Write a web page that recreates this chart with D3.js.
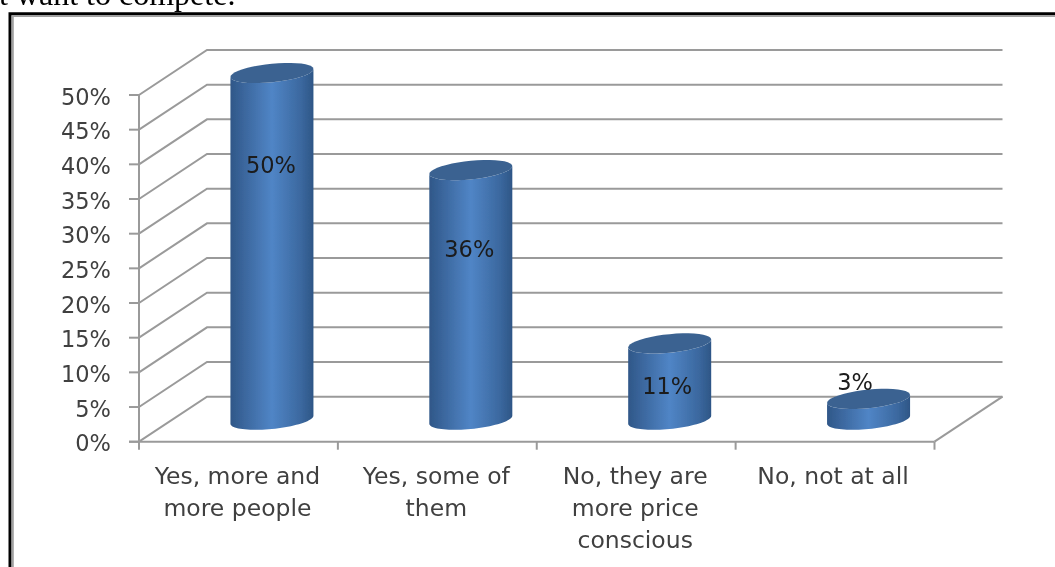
<!DOCTYPE html>
<html><head><meta charset="utf-8">
<script src="https://cdn.jsdelivr.net/npm/d3@7"></script>
<style>html,body{margin:0;padding:0;background:#fff;overflow:hidden}svg{display:block}</style>
</head><body><svg id="c" width="1055" height="567"></svg>
<script>
const categories = [["Yes, more and","more people"],["Yes, some of","them"],["No, they are","more price","conscious"],["No, not at all"]];
const values = [50,36,11,3];
const labels = ["50%","36%","11%","3%"];
const ticks = [0,5,10,15,20,25,30,35,40,45,50];
const caption = "t want to compete.";

const W=1055,H=567;
const svg=d3.select("#c");
const defs=svg.append("defs");
const f=defs.append("filter").attr("id","soft").attr("x","-5%").attr("y","-5%").attr("width","110%").attr("height","110%");
f.append("feGaussianBlur").attr("stdDeviation",0.55);
const g1=defs.append("linearGradient").attr("id","side");
[[0,"#2f5788"],[0.15,"#3a659b"],[0.5,"#5085c6"],[0.85,"#3b689f"],[1,"#2e5686"]].forEach(s=>g1.append("stop").attr("offset",s[0]).attr("stop-color",s[1]));

const root=svg.append("g").attr("filter","url(#soft)");
const x=d3.scaleBand().domain(d3.range(categories.length)).range([139,934.5]);
const y=d3.scaleLinear().domain([0,50]).range([441.7,95]);
const depth={dx:68,dy:-45};
const grid="#9a9a9a";

// caption + frame
root.append("text").text(caption).attr("x",-1).attr("y",5).attr("font-family","Liberation Serif").attr("font-size",32).attr("fill","#000");
root.append("path").attr("d",`M10,${H+5}V13.7H${W+5}`).attr("fill","none").attr("stroke","#000").attr("stroke-width",3);
root.append("path").attr("d",`M12.8,${H+5}V16H${W+5}`).attr("fill","none").attr("stroke","#a0a0a0").attr("stroke-width",2);

// gridlines
root.append("g").selectAll("path").data(ticks).join("path")
 .attr("d",t=>`M${x.range()[0]},${y(t)}l${depth.dx},${depth.dy}H${x.range()[1]+depth.dx}`)
 .attr("fill","none").attr("stroke",grid).attr("stroke-width",2);
// floor
root.append("path").attr("d",`M${x.range()[1]},${y(0)}l${depth.dx},${depth.dy}`).attr("fill","none").attr("stroke",grid).attr("stroke-width",2);
// axes
root.append("path").attr("d",`M${x.range()[0]},${y(50)}V${y(0)+8}M${x.range()[0]-10},${y(0)}H${x.range()[1]}`).attr("fill","none").attr("stroke",grid).attr("stroke-width",2);
root.append("g").selectAll("path").data(ticks).join("path").attr("d",t=>`M${x.range()[0]-10},${y(t)}H${x.range()[0]}`).attr("stroke",grid).attr("stroke-width",2);
root.append("g").selectAll("path").data(d3.range(1,categories.length+1)).join("path")
 .attr("d",i=>`M${x.range()[0]+x.bandwidth()*i},${y(0)}v8`).attr("stroke",grid).attr("stroke-width",2);

// tick labels
const font="DejaVu Sans";
root.append("g").selectAll("text").data(ticks).join("text").text(t=>t+"%")
 .attr("x",111).attr("y",t=>y(t)+9.5).attr("text-anchor","end")
 .attr("font-family",font).attr("font-size",22.5).attr("fill","#404040");

// cylinders
const rx=41.5,ry=9.3,tilt=4,baseShift=-22;
const ell=(cx,cy,a0,a1)=>d3.range(0,41).map(i=>{const a=a0+(a1-a0)*i/40;return [cx+rx*Math.cos(a),cy+ry*Math.sin(a)-tilt*Math.cos(a)];});
const line=d3.line();
const cx=i=>x(i)+x.bandwidth()/2+33.5;
const bars=root.append("g").selectAll("g").data(values).join("g");
bars.append("path").attr("fill","url(#side)").attr("d",(v,i)=>{
  const top=ell(cx(i),y(v)+baseShift,Math.PI,0), bot=ell(cx(i),y(0)+baseShift,0,Math.PI);
  return line(top.concat(bot))+"Z";
});
bars.append("path").attr("fill","#3a6291").attr("d",(v,i)=>line(ell(cx(i),y(v)+baseShift,0,2*Math.PI))+"Z");

// value labels
const labelY=[173,257,394,390];
root.append("g").selectAll("text").data(values).join("text").text((v,i)=>labels[i])
 .attr("x",(v,i)=>cx(i)-1+[0,-0.5,-1.5,-12.5][i]).attr("y",(v,i)=>labelY[i])
 .attr("text-anchor","middle").attr("font-family",font).attr("font-size",22.5).attr("fill","#1a1a1a");

// category labels
const cat=root.append("g").selectAll("text").data(categories).join("text")
 .attr("text-anchor","middle").attr("font-family",font).attr("font-size",23.5).attr("fill","#404040");
cat.selectAll("tspan").data((d,i)=>d.map(s=>({s,i}))).join("tspan")
 .text(d=>d.s).attr("x",d=>x(d.i)+x.bandwidth()/2-1+(d.i==3?-1:0)).attr("y",(d,j)=>484+j*32);
</script></body></html>
